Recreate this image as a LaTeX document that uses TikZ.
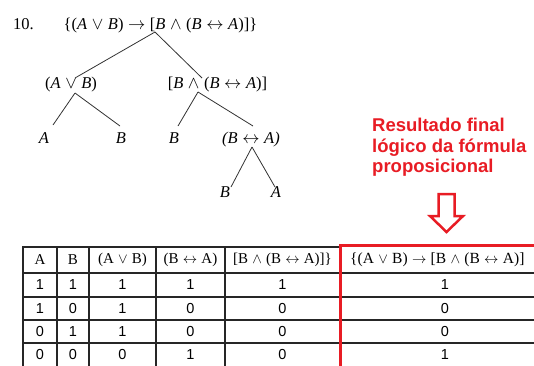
\documentclass[tikz,border=0pt]{standalone}
\usepackage{fontspec}
\setmainfont{Liberation Serif}
\newfontfamily\arialf{Liberation Sans}
\usetikzlibrary{calc}
\definecolor{redc}{RGB}{232,28,36}
\definecolor{treec}{RGB}{50,50,50}
\begin{document}
\begin{tikzpicture}[x=1pt,y=-1pt,
  tt/.style={inner sep=0pt,font=\fontsize{16.5}{18}\selectfont},
  branch/.style={draw=treec,line width=0.8pt},
  tbl/.style={draw=black!85,line width=2pt},
  redline/.style={draw=redc,line width=3pt},
  hd/.style={inner sep=0pt,font=\fontsize{15}{17}\selectfont},
  cell/.style={inner sep=0pt,font=\arialf\fontsize{14.5}{16}\selectfont},
  redtxt/.style={inner sep=0pt,text=redc,font=\arialf\bfseries\fontsize{18.5}{20.5}\selectfont,align=left}]
\useasboundingbox (0,0) rectangle (534,365);
\clip (0,0) rectangle (534,365);
% tree
\node[tt,anchor=base west] (num) at (13,29) {10.};
\node[tt,anchor=base] (top) at (160.5,29) {\{(\textit{A}\;$\vee$\;\textit{B})\;$\rightarrow$\;[\textit{B}\;$\wedge$\;(\textit{B}\;$\leftrightarrow$\;\textit{A})]\}};
\node[tt,anchor=base] (avb) at (71,88) {(\textit{A}\;$\vee$\;\textit{B})};
\node[tt,anchor=base] (bba) at (217.5,88) {[\textit{B}\;$\wedge$\;(\textit{B}\;$\leftrightarrow$\;\textit{A})]};
\node[tt,anchor=base] (a1) at (44,143) {\textit{A}};
\node[tt,anchor=base] (b1) at (121,143) {\textit{B}};
\node[tt,anchor=base] (b2) at (174,143) {\textit{B}};
\node[tt,anchor=base] (bia) at (251,143) {\textit{(B\;}$\leftrightarrow$\textit{\;A)}};
\node[tt,anchor=base] (b3) at (225,197) {\textit{B}};
\node[tt,anchor=base] (a3) at (276,197) {\textit{A}};
\draw[branch] ($(top.base)+(-5.5,3)$) -- ($(avb.base)+(4,-10)$);
\draw[branch] ($(top.base)+(-5.5,3)$) -- ($(bba.base)+(-15.5,-10)$);
\draw[branch] ($(avb.base)+(4,5)$) -- ($(a1.base)+(9,-18)$);
\draw[branch] ($(avb.base)+(4,5)$) -- ($(b1.base)+(-1,-17)$);
\draw[branch] ($(bba.base)+(-19.5,4)$) -- ($(b2.base)+(4,-17)$);
\draw[branch] ($(bba.base)+(-19.5,4)$) -- ($(bia.base)+(2,-17)$);
\draw[branch] ($(bia.base)+(1,4)$) -- ($(b3.base)+(6,-10)$);
\draw[branch] ($(bia.base)+(1,4)$) -- ($(a3.base)+(-1,-10)$);
% red annotation
\node[redtxt,anchor=base west] (note) at (372,172.5) {Resultado final\\lógico da fórmula\\proposicional};
\draw[draw=redc,line width=2.5pt,line join=miter] (438.5,194) -- (454.5,194) -- (454.5,216) -- (463,216) -- (446.5,232) -- (430,216) -- (438.5,216) -- cycle;
% table
\draw[tbl] (23,247) -- (340,247);
\foreach \yy in {273,297,320,343} \draw[tbl] (23,\yy) -- (560,\yy);
\foreach \xx in {23,57,89,156,225} \draw[tbl] (\xx,246) -- (\xx,370);
\draw[redline,line cap=rect] (340,370) -- (340,245.5) -- (560,245.5);
\node[hd] (h1) at (40,260) {A};
\node[hd] (h2) at (73,260) {B};
\node[hd] (h3) at (122.5,260) {(A\;$\vee$\;B)};
\node[hd] (h4) at (190.5,260) {(B\;$\leftrightarrow$\;A)};
\node[hd] (h5) at (282.5,260) {[B\;$\wedge$\;(B\;$\leftrightarrow$\;A)]\}};
\node[hd,anchor=west,font=\fontsize{15.5}{17}\selectfont] (h6) at (350,260) {\{(A\;$\vee$\;B)\;$\rightarrow$\;[B\;$\wedge$\;(B\;$\leftrightarrow$\;A)]};
\foreach \r/\yy/\va/\vb/\vc/\vd/\ve/\vf in {1/285/1/1/1/1/1/1,2/308.5/1/0/1/0/0/0,3/331.5/0/1/1/0/0/0,4/354.5/0/0/0/1/0/1}{
  \node[cell] (c\r a) at (40,\yy) {\va};
  \node[cell] (c\r b) at (73,\yy) {\vb};
  \node[cell] (c\r c) at (122.5,\yy) {\vc};
  \node[cell] (c\r d) at (190.5,\yy) {\vd};
  \node[cell] (c\r e) at (282.5,\yy) {\ve};
  \node[cell] (c\r f) at (445,\yy) {\vf};
}
\end{tikzpicture}
\end{document}
